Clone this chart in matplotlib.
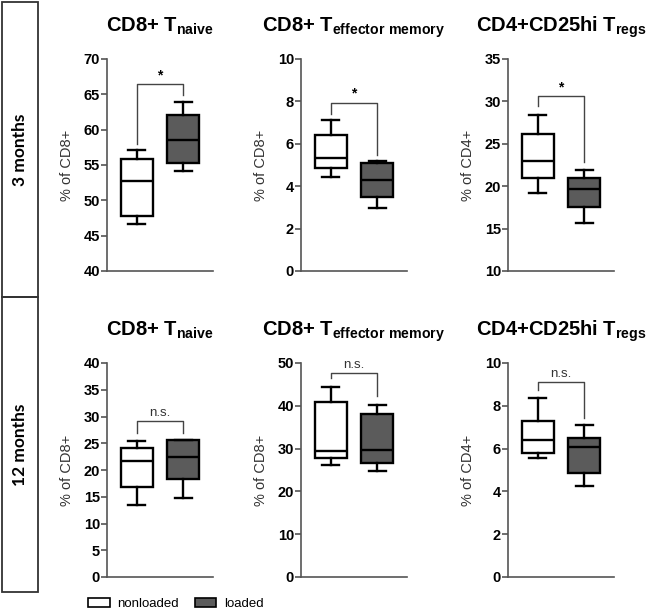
import matplotlib
matplotlib.use("Agg")
import matplotlib.pyplot as plt
from matplotlib.patches import Patch, Rectangle

plt.rcParams['font.family'] = ['Liberation Sans', 'DejaVu Sans']
plt.rcParams['mathtext.fontset'] = 'custom'
plt.rcParams['mathtext.bf'] = 'Liberation Sans:bold'
plt.rcParams['mathtext.rm'] = 'Liberation Sans'

groups = ["nonloaded", "loaded"]
fills = ["white", "#5b5b5b"]

titles = [
    r"CD8+ T$_{\mathbf{naive}}$",
    r"CD8+ T$_{\mathbf{effector\ memory}}$",
    r"CD4+CD25hi T$_{\mathbf{regs}}$",
]
ylabels = ["% of CD8+", "% of CD8+", "% of CD4+"]
rows = ["3 months", "12 months"]

# per panel, per group: (whislo, q1, med, q3, whishi)
stats = [
    [(46.7, 47.8, 52.8, 55.8, 57.1), (54.2, 55.3, 58.5, 62.1, 63.9)],
    [(4.45, 4.85, 5.35, 6.4, 7.1), (2.95, 3.5, 4.3, 5.1, 5.2)],
    [(19.2, 21.0, 23.0, 26.2, 28.4), (15.7, 17.6, 19.7, 21.0, 21.9)],
    [(13.4, 16.75, 21.75, 24.1, 25.4), (14.75, 18.25, 22.4, 25.6, 25.7)],
    [(26.25, 27.9, 29.5, 40.9, 44.4), (24.7, 26.7, 29.7, 38.05, 40.2)],
    [(5.57, 5.79, 6.4, 7.27, 8.37), (4.23, 4.87, 6.08, 6.49, 7.1)],
]
ylims = [(40, 70), (0, 10), (10, 35), (0, 40), (0, 50), (0, 10)]
ysteps = [5, 2, 5, 5, 10, 2]

# significance brackets: bar height, left leg end, right leg end, label
brackets = [
    (66.4, 58.0, 64.9, "*"),
    (7.93, 7.4, 5.48, "*"),
    (30.6, 29.5, 22.9, "*"),
    (29.1, 26.9, 26.9, "n.s."),
    (47.7, 46.5, 42.3, "n.s."),
    (9.1, 8.74, 7.43, "n.s."),
]

W, H = 653, 614
fig = plt.figure(figsize=(W / 100, H / 100), dpi=100)

lefts = [107, 301, 508]
row_px = [(59, 271), (363, 577)]

for i in range(6):
    r, c = divmod(i, 3)
    top, bot = row_px[r]
    ax = fig.add_axes([lefts[c] / W, 1 - bot / H, 106 / W, (bot - top) / H])
    bx = []
    for lo, q1, med, q3, hi in stats[i]:
        bx.append(dict(whislo=lo, q1=q1, med=med, q3=q3, whishi=hi, fliers=[]))
    art = ax.bxp(bx, positions=[1, 2], widths=0.7, capwidths=0.37, patch_artist=True,
                 showfliers=False,
                 boxprops=dict(linewidth=1.7, edgecolor="black"),
                 medianprops=dict(color="black", linewidth=1.7),
                 whiskerprops=dict(color="black", linewidth=1.7),
                 capprops=dict(color="black", linewidth=1.7))
    for patch, fc in zip(art["boxes"], fills):
        patch.set_facecolor(fc)

    yb, yl, yr, lab = brackets[i]
    ax.plot([1, 1, 2, 2], [yl, yb, yb, yr], color="#444444", lw=1.0)
    ymin, ymax = ylims[i]
    off = (ymax - ymin) * 0.01
    if lab == "*":
        ax.text(1.5, yb + off, lab, ha="center", va="bottom", fontsize=10, fontweight="bold")
    else:
        ax.text(1.5, yb + off, lab, ha="center", va="bottom", fontsize=9.5, color="#333333")

    ax.set_xlim(0.35, 2.65)
    ax.set_ylim(ymin, ymax)
    ax.set_yticks(range(ymin, ymax + 1, ysteps[i]))
    ax.set_xticks([])
    for s in ["top", "right"]:
        ax.spines[s].set_visible(False)
    for s in ["left", "bottom"]:
        ax.spines[s].set_color("#555555")
        ax.spines[s].set_linewidth(1.2)
    ax.tick_params(axis="y", length=4, width=1.2, color="#555555", labelsize=10.5, pad=1)
    for t in ax.get_yticklabels():
        t.set_fontweight("bold")
    ax.set_ylabel(ylabels[c], fontsize=10.5, color="#333333", labelpad=7)
    ax.set_title(titles[c], fontsize=14.5, fontweight="bold", pad=20)

# row label boxes
for (y0, y1), name in zip([(2, 297), (297, 592)], rows):
    fig.add_artist(Rectangle((2 / W, 1 - y1 / H), 36 / W, (y1 - y0) / H,
                             transform=fig.transFigure, fill=False, lw=1.3, ec="#333333"))
    fig.text(20 / W, 1 - (y0 + y1) / 2 / H, name, rotation=90, ha="center", va="center",
             fontsize=12.5, fontweight="bold", family=["Lato", "DejaVu Sans"])

handles = [Patch(facecolor=fc, edgecolor="black", lw=1.2, label=g) for g, fc in zip(groups, fills)]
fig.legend(handles=handles, loc="center", bbox_to_anchor=(176 / W, 1 - 604 / H), ncol=2,
           frameon=False, fontsize=9.5, handlelength=1.6, handleheight=0.7,
           columnspacing=1.2, handletextpad=0.6)

fig.savefig("out.png", dpi=100)
